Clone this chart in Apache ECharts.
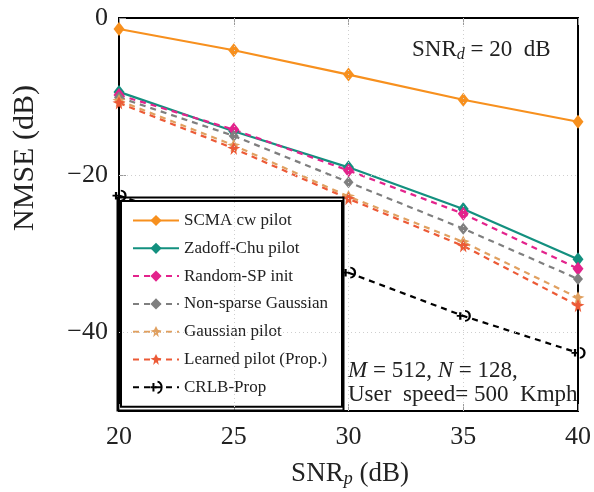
<!DOCTYPE html>
<html>
<head>
<meta charset="utf-8">
<script src="https://cdn.jsdelivr.net/npm/echarts@6/dist/echarts.min.js"></script>
<style>html,body{margin:0;padding:0;background:#fff}#c{width:594px;height:492px}</style>
</head>
<body>
<div id="c"></div>
<script>
const snrP = [20, 25, 30, 35, 40];
const scma = [-1.4, -4.1, -7.2, -10.4, -13.2];
const zadoff = [-9.4, -14.4, -19.0, -24.3, -30.7];
const randomSP = [-9.8, -14.2, -19.4, -24.9, -31.9];
const nonSparse = [-10.1, -15.0, -20.9, -26.8, -33.2];
const gaussPilot = [-10.5, -16.2, -22.7, -28.5, -35.6];
const learned = [-10.8, -16.6, -23.0, -29.0, -36.6];
const crlb = [-22.6, null, -32.4, -37.9, -42.6];
const yTicks = [0, -20, -40];
const xGrid = [25, 30, 35];
const yGrid = [-20, -40];

const FONT = 'Liberation Serif';
const pairs = a => snrP.map((x, i) => [x, a[i]]);
const swirl = 'path://M0,-6 L2,-2 L6,-1 L2,1 L3,6 L0,3 L-3,6 L-2,1 L-6,-1 L-2,-2 Z';
const crlbSym = 'path://M-7,0 L-1,0 M-4,-3 L-4,3 M0,-4 A4,4 0 0,1 0,4';

function mk(name, data, color, dashed, symbol, size) {
  return {
    name, type: 'line', data: pairs(data), connectNulls: true,
    symbol, symbolSize: size,
    lineStyle: { color, width: 2.2, type: dashed ? [6, 5] : 'solid' },
    itemStyle: { color },
    z: 3
  };
}

const series = [
  mk('SCMA cw pilot', scma, '#f7901e', false, 'diamond', [11, 14]),
  mk('Zadoff-Chu pilot', zadoff, '#13907f', false, 'diamond', [11, 14]),
  mk('Random-SP init', randomSP, '#e3238c', true, 'diamond', [11, 14]),
  mk('Non-sparse Gaussian', nonSparse, '#7f7f7f', true, 'diamond', [10, 12]),
  mk('Gaussian pilot', gaussPilot, '#e0a060', true, swirl, 13),
  mk('Learned pilot (Prop.)', learned, '#ec5a36', true, swirl, 13),
  {
    name: 'CRLB-Prop', type: 'line', data: pairs(crlb), connectNulls: true,
    symbol: crlbSym, symbolSize: [13, 10],
    lineStyle: { color: '#000', width: 2.2, type: [6, 5] },
    itemStyle: { color: 'rgba(0,0,0,0)', borderColor: '#000', borderWidth: 2 },
    z: 3
  }
];
series[0].markLine = {
  silent: true, symbol: 'none', label: { show: false },
  lineStyle: { color: '#cfcfcf', width: 1, type: [1, 3] },
  data: xGrid.map(v => ({ xAxis: v })).concat(yGrid.map(v => ({ yAxis: v })))
};

const chart = echarts.init(document.getElementById('c'), null, { renderer: 'canvas' });
chart.setOption({
  animation: false,
  backgroundColor: '#fff',
  grid: { left: 119, right: 14, top: 18, bottom: 81, show: true, borderColor: '#000', borderWidth: 2, backgroundColor: 'transparent' },
  xAxis: [{
    type: 'value', min: 20, max: 40, interval: 5,
    axisLine: { show: false, onZero: false },
    axisTick: { inside: true, length: 7, lineStyle: { color: '#999' } },
    axisLabel: { fontFamily: FONT, fontSize: 26, color: '#222', margin: 13 },
    splitLine: { show: false }
  }, {
    type: 'value', min: 20, max: 40, interval: 5, position: 'top',
    axisLine: { show: false, onZero: false },
    axisTick: { inside: true, length: 7, lineStyle: { color: '#999' } },
    axisLabel: { show: false }, splitLine: { show: false }
  }],
  yAxis: [{
    type: 'value', min: -50, max: 0, interval: 10,
    axisLine: { show: false, onZero: false },
    axisTick: { inside: true, length: 7, lineStyle: { color: '#999' }, customValues: yTicks },
    axisLabel: { fontFamily: FONT, fontSize: 26, color: '#222', margin: 11, customValues: yTicks,
      formatter: v => (v < 0 ? '\u2212' + Math.abs(v) : '' + v) },
    splitLine: { show: false }
  }],
  legend: {
    orient: 'vertical', left: 121, top: 201,
    itemWidth: 46, itemHeight: 14, itemGap: 10.8,
    padding: [11, 14, 11, 11],
    backgroundColor: '#fff', borderColor: '#000', borderWidth: 2,
    textStyle: { fontFamily: FONT, fontSize: 17, color: '#222' },
    data: series.map(s => s.name)
  },
  graphic: [
    { type: 'rect', shape: { x: 117.5, y: 197.5, width: 226, height: 213 }, style: { fill: 'none', stroke: '#000', lineWidth: 2 }, z: 10, silent: true },
    { type: 'text', x: 412, y: 50, style: { text: '{n|SNR}{s|d}{n| = 20  dB}', verticalAlign: 'middle',
        rich: { n: { fontFamily: FONT, fontSize: 23, fill: '#222' }, s: { fontFamily: FONT, fontSize: 16, fontStyle: 'italic', fill: '#222', padding: [9, 0, 0, 0] } } }, z: 20 },
    { type: 'text', x: 348, y: 371, style: { text: '{i|M}{n| = 512, }{i|N}{n| = 128,}', verticalAlign: 'middle',
        rich: { n: { fontFamily: FONT, fontSize: 23, fill: '#222' }, i: { fontFamily: FONT, fontSize: 23, fontStyle: 'italic', fill: '#222' } } }, z: 20 },
    { type: 'text', x: 348, y: 395, style: { text: 'User  speed= 500  Kmph', verticalAlign: 'middle', fontFamily: FONT, fontSize: 23, fill: '#222' }, z: 20 },
    { type: 'text', x: 25, y: 158, rotation: Math.PI / 2, style: { text: 'NMSE (dB)', align: 'center', verticalAlign: 'middle', fontFamily: FONT, fontSize: 30, fill: '#222' }, z: 20 },
    { type: 'text', x: 350, y: 474, style: { text: '{n|SNR}{s|p}{n| (dB)}', align: 'center', verticalAlign: 'middle',
        rich: { n: { fontFamily: FONT, fontSize: 27, fill: '#222' }, s: { fontFamily: FONT, fontSize: 18, fontStyle: 'italic', fill: '#222', padding: [10, 0, 0, 0] } } }, z: 20 }
  ],
  series
});
</script>
</body>
</html>
